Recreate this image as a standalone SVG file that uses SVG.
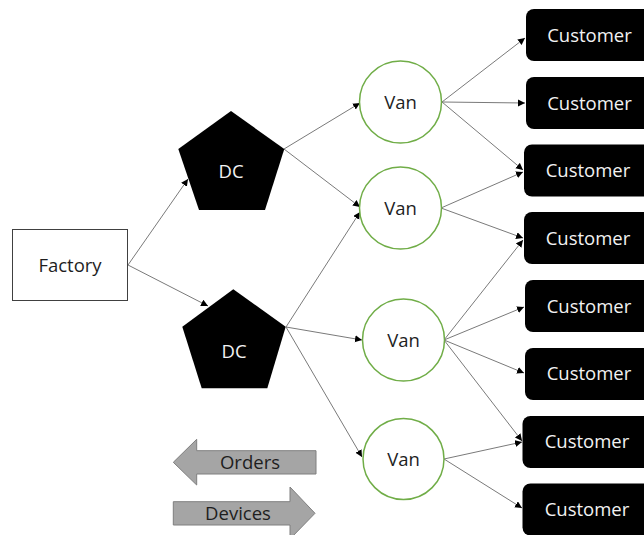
<svg xmlns="http://www.w3.org/2000/svg" width="644" height="535" viewBox="0 0 644 535">
<style>
text{font-family:"Open Sans","Liberation Sans",sans-serif;font-size:18.5px;text-anchor:middle}
.dark{fill:#1e1e1e}
.light{fill:#f2f2f2}
.van{fill:#fff;stroke:#70ad47;stroke-width:1.5}
.cust{fill:#000}
.dc{fill:#000}
.con line{stroke:#7a7a7a;stroke-width:1;marker-end:url(#ah)}
.big{fill:#a5a5a5;stroke:#7f7f7f;stroke-width:1}
</style>
<defs>
<marker id="ah" markerUnits="userSpaceOnUse" markerWidth="8" markerHeight="8" refX="7" refY="3.5" orient="auto">
<path d="M0,0 L7,3.5 L0,7 z" fill="#000"/>
</marker>
</defs>
<rect width="644" height="535" fill="#fff"/>
<g id="connectors" class="con">
<line x1="128" y1="265" x2="188" y2="179"/>
<line x1="128" y1="265" x2="208" y2="306"/>
<line x1="284" y1="149" x2="360" y2="103"/>
<line x1="284" y1="149" x2="360" y2="207"/>
<line x1="286" y1="327" x2="360" y2="212"/>
<line x1="286" y1="327" x2="362" y2="340"/>
<line x1="286" y1="327" x2="362" y2="457"/>
<line x1="442" y1="102" x2="525" y2="38"/>
<line x1="442" y1="102" x2="525" y2="103"/>
<line x1="442" y1="102" x2="523" y2="170"/>
<line x1="441" y1="208" x2="523" y2="172"/>
<line x1="441" y1="208" x2="523" y2="238"/>
<line x1="444" y1="340" x2="523" y2="240"/>
<line x1="444" y1="340" x2="524" y2="307"/>
<line x1="444" y1="340" x2="524" y2="373"/>
<line x1="444" y1="340" x2="522" y2="441"/>
<line x1="444" y1="459" x2="522" y2="442"/>
<line x1="444" y1="459" x2="522" y2="508"/>
</g>
<g id="factory">
<rect x="12.5" y="229.5" width="115" height="71" fill="#fff" stroke="#404040" stroke-width="1"/>
<text class="dark" x="70" y="272">Factory</text>
</g>
<g id="dc1">
<polygon class="dc" points="231,111 284.3,149 265,210 199,210 178.3,149"/>
<text class="light" x="231" y="178">DC</text>
</g>
<g id="dc2">
<polygon class="dc" points="233.3,289.3 285.7,326.7 267.3,388.3 201.7,388.3 182.3,326.7"/>
<text class="light" x="234" y="358">DC</text>
</g>
<g id="van1"><circle class="van" cx="400.5" cy="102" r="41"/><text class="dark" x="400.5" y="108.5">Van</text></g>
<g id="van2"><circle class="van" cx="400.5" cy="208" r="41"/><text class="dark" x="400.5" y="214.5">Van</text></g>
<g id="van3"><circle class="van" cx="403.5" cy="340" r="41"/><text class="dark" x="403.5" y="346.5">Van</text></g>
<g id="van4"><circle class="van" cx="403.5" cy="459" r="40.5"/><text class="dark" x="403.5" y="465.5">Van</text></g>
<g id="cust1"><rect class="cust" x="526" y="9" width="130" height="52" rx="8"/><text class="light" x="589.5" y="41.5">Customer</text></g>
<g id="cust2"><rect class="cust" x="526" y="77" width="130" height="52" rx="8"/><text class="light" x="589.5" y="109.5">Customer</text></g>
<g id="cust3"><rect class="cust" x="524" y="144.5" width="130" height="52" rx="8"/><text class="light" x="588" y="177">Customer</text></g>
<g id="cust4"><rect class="cust" x="524" y="212" width="130" height="52" rx="8"/><text class="light" x="588" y="245">Customer</text></g>
<g id="cust5"><rect class="cust" x="525" y="280" width="130" height="52" rx="8"/><text class="light" x="589" y="312.5">Customer</text></g>
<g id="cust6"><rect class="cust" x="525" y="348" width="130" height="52" rx="8"/><text class="light" x="589" y="380">Customer</text></g>
<g id="cust7"><rect class="cust" x="522.5" y="416" width="130" height="52" rx="8"/><text class="light" x="587" y="447.5">Customer</text></g>
<g id="cust8"><rect class="cust" x="522.5" y="483.5" width="130" height="52" rx="8"/><text class="light" x="587" y="515.5">Customer</text></g>
<g id="orders">
<polygon class="big" points="316,450.7 196.7,450.7 196.7,439.3 173.3,462.3 196.7,485 196.7,474 316,474"/>
<text class="dark" x="250" y="468.5">Orders</text>
</g>
<g id="devices">
<polygon class="big" points="173.3,501.7 290,501.7 290,487 315,513.3 290,539 290,525 173.3,525"/>
<text class="dark" x="238" y="519.5">Devices</text>
</g>
</svg>
